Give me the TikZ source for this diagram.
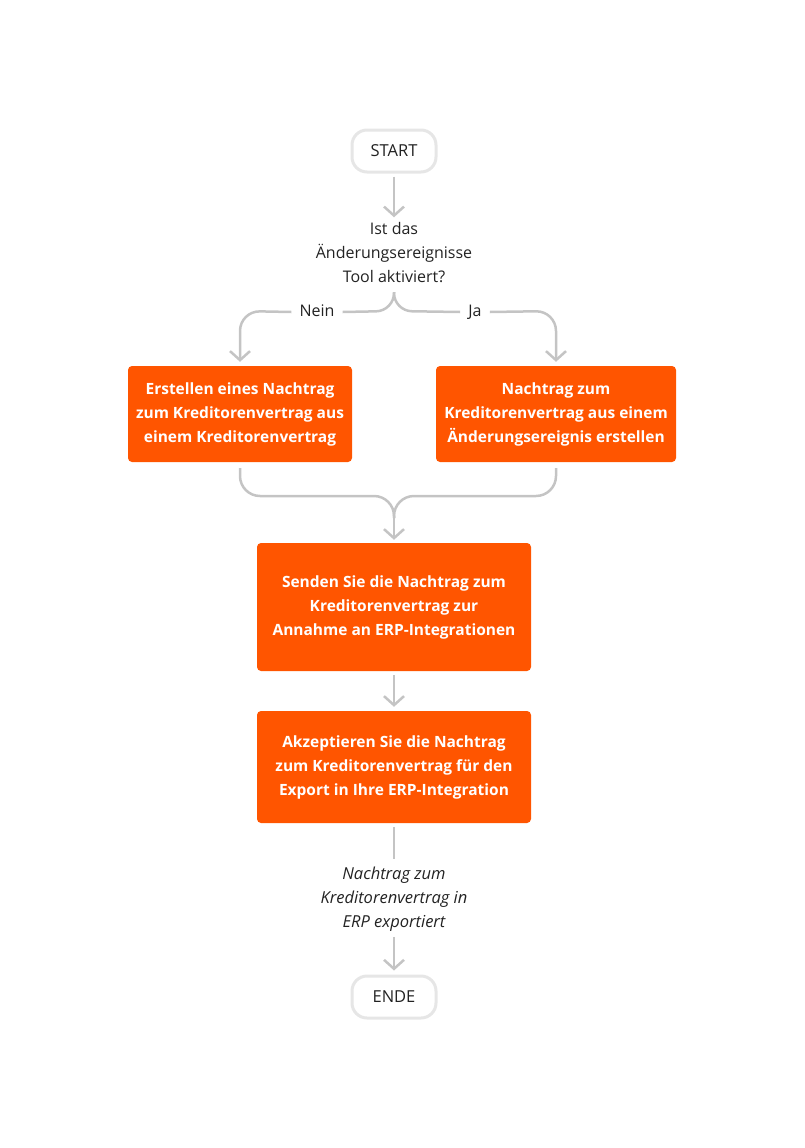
\documentclass[tikz,border=0pt]{standalone}
\usepackage{fontspec}
\setmainfont{Open Sans}
\usetikzlibrary{arrows.meta,positioning}
\definecolor{orng}{HTML}{FF5500}
\definecolor{conn}{HTML}{C4C4C4}
\definecolor{term}{HTML}{E6E6E6}
\definecolor{txt}{HTML}{222222}
\tikzset{
  termbox/.style={draw=term,line width=3pt,fill=white,rounded corners=15pt,minimum width=84pt,minimum height=42pt,font=\fontsize{16.5}{18}\selectfont,text=txt},
  stepbox/.style={fill=orng,rounded corners=4pt,text=white,font=\fontsize{15.5}{24}\selectfont\bfseries,align=center},
  plain/.style={align=center,font=\fontsize{16}{24}\selectfont,text=txt},
  lbl/.style={font=\fontsize{16}{18}\selectfont,text=txt,inner sep=8pt,text height=11pt,text depth=3pt},
  conline/.style={draw=conn,line width=2.5pt},
  arr/.style={conline,-{Straight Barb[length=9pt,width=20pt]}}
}
\begin{document}
\begin{tikzpicture}[x=1pt,y=-1pt]
\path[use as bounding box] (0,0) rectangle (804,1148);
\node[termbox] (start) at (394,151) {START};
\node[plain] (dec) at (394,253) {Ist das\\Änderungsereignisse\\Tool aktiviert?};
\node[stepbox,minimum width=224pt,minimum height=96pt] (b1) at (240,414) {Erstellen eines Nachtrag\\zum Kreditorenvertrag aus\\einem Kreditorenvertrag};
\node[stepbox,minimum width=240pt,minimum height=96pt] (b2) at (556,414) {Nachtrag zum\\Kreditorenvertrag aus einem\\Änderungsereignis erstellen};
\node[stepbox,minimum width=274pt,minimum height=128pt] (b3) at (394,607) {Senden Sie die Nachtrag zum\\Kreditorenvertrag zur\\Annahme an ERP-Integrationen};
\node[stepbox,minimum width=274pt,minimum height=112pt] (b4) at (394,767) {Akzeptieren Sie die Nachtrag\\zum Kreditorenvertrag für den\\Export in Ihre ERP-Integration};
\node[plain,font=\itshape\fontsize{16.5}{24}\selectfont] (res) at (394,899) {Nachtrag zum\\Kreditorenvertrag in\\ERP exportiert};
\node[termbox] (ende) at (394,997) {ENDE};
\node[lbl] (nein) at (317,312) {Nein};
\node[lbl] (ja) at (475,312) {Ja};
\coordinate (split) at (394,292);
\coordinate (merge) at (394,518);
% start -> decision
\draw[arr,shorten <=3pt,shorten >=2pt] (start.south) -- (dec.north);
% branches
\draw[conline,rounded corners=18pt] (split) -- (394,311) -- (nein.east);
\draw[arr,rounded corners=20pt,shorten >=4pt] (nein.west) -- (240,311) -- (b1.north);
\draw[conline,rounded corners=18pt] (split) -- (394,311) -- (ja.west);
\draw[arr,rounded corners=20pt,shorten >=4pt] (ja.east) -- (556,311) -- (b2.north);
% merge
\draw[conline,rounded corners=20pt,shorten <=6pt] (b1.south) -- (240,496) -- (394,496) -- (merge);
\draw[conline,rounded corners=20pt,shorten <=6pt] (b2.south) -- (556,496) -- (394,496) -- (merge);
\draw[arr,shorten >=3pt] (merge) -- (b3.north);
\draw[arr,shorten <=4pt,shorten >=4pt] (b3.south) -- (b4.north);
\draw[conline,shorten <=4pt,shorten >=4pt] (b4.south) -- (res.north);
\draw[arr,shorten <=2pt,shorten >=4pt] (res.south) -- (ende.north);
\end{tikzpicture}
\end{document}
